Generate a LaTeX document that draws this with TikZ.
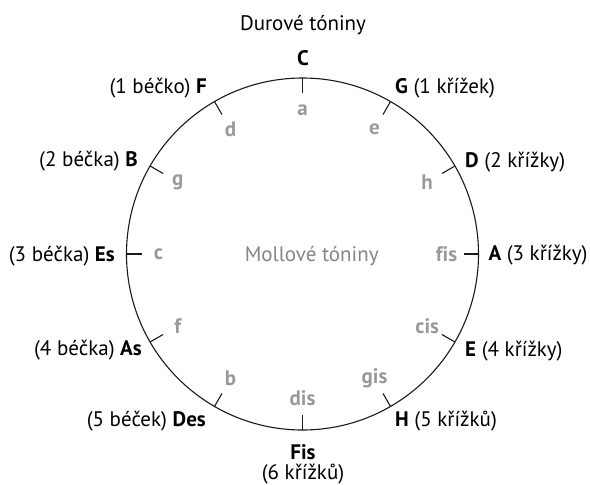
\documentclass[tikz,border=0pt]{standalone}
\usepackage{fontspec}
\setmainfont{PT Sans}[Ligatures=NoCommon]
\usetikzlibrary{calc}
\definecolor{minorgray}{HTML}{9A9A9A}
\definecolor{centergray}{HTML}{858585}
\definecolor{ringcol}{HTML}{1A1A1A}
\tikzset{
  ring/.style={draw=ringcol, line width=1.1pt},
  tick/.style={draw=ringcol, line width=1.1pt},
  major/.style={font=\fontsize{21}{23}\selectfont, text=black, inner sep=0pt},
  minor/.style={font=\fontsize{21}{23}\selectfont\bfseries, text=minorgray, inner sep=0pt},
  title/.style={font=\fontsize{21}{23}\selectfont, text=black, inner sep=0pt},
  centertext/.style={font=\fontsize{21}{23}\selectfont, text=centergray, inner sep=0pt}
}
\begin{document}
\begin{tikzpicture}[x=1pt,y=-1pt]
\useasboundingbox (0,0) rectangle (590,485);
\coordinate (O) at (302.5,254);
\draw[ring] (O) circle[radius=176pt];
% ticks and minor labels
\foreach \ang/\nm/\mn in {90/C/a,60/G/e,30/D/h,0/A/fis,-30/E/cis,-60/H/gis,-90/Fis/dis,-120/Des/b,-150/As/f,180/Es/c,150/B/g,120/F/d}{
  \coordinate (p\nm) at ($(O)+(\ang:176pt)$);
  \coordinate (q\nm) at ($(O)+(\ang:161pt)$);
  \draw[tick] (p\nm) -- (q\nm);
  \node[minor] (m\nm) at ($(O)+(\ang:144pt)$) {\mn};
}
\node[title, anchor=base] (title) at (303,30.7) {Durové tóniny};
\node[centertext, anchor=base] (center) at (311.7,261.7) {Mollové tóniny};
\node[major, anchor=base] (lC) at (303,65) {\textbf{C}};
\node[major, anchor=base west] (lG) at (395,93.3) {\textbf{G} (1 křížek)};
\node[major, anchor=base west] (lD) at (465,167.3) {\textbf{D} (2 křížky)};
\node[major, anchor=base west] (lA) at (488.3,260) {\textbf{A} (3 křížky)};
\node[major, anchor=base west] (lE) at (465,356) {\textbf{E} (4 křížky)};
\node[major, anchor=base west] (lH) at (395,426) {\textbf{H} (5 křížků)};
\node[major, anchor=base] (lFis) at (303,459) {\textbf{Fis}};
\node[major, anchor=base] (lFisN) at (303,479.5) {(6 křížků)};
\node[major, anchor=base east] (lDes) at (206,426.7) {(5 béček) \textbf{Des}};
\node[major, anchor=base east] (lAs) at (142,355) {(4 béčka) \textbf{As}};
\node[major, anchor=base east] (lEs) at (115,261.7) {(3 béčka) \textbf{Es}};
\node[major, anchor=base east] (lB) at (138,166.7) {(2 béčka) \textbf{B}};
\node[major, anchor=base east] (lF) at (207,93.3) {(1 béčko) \textbf{F}};
\end{tikzpicture}
\end{document}
